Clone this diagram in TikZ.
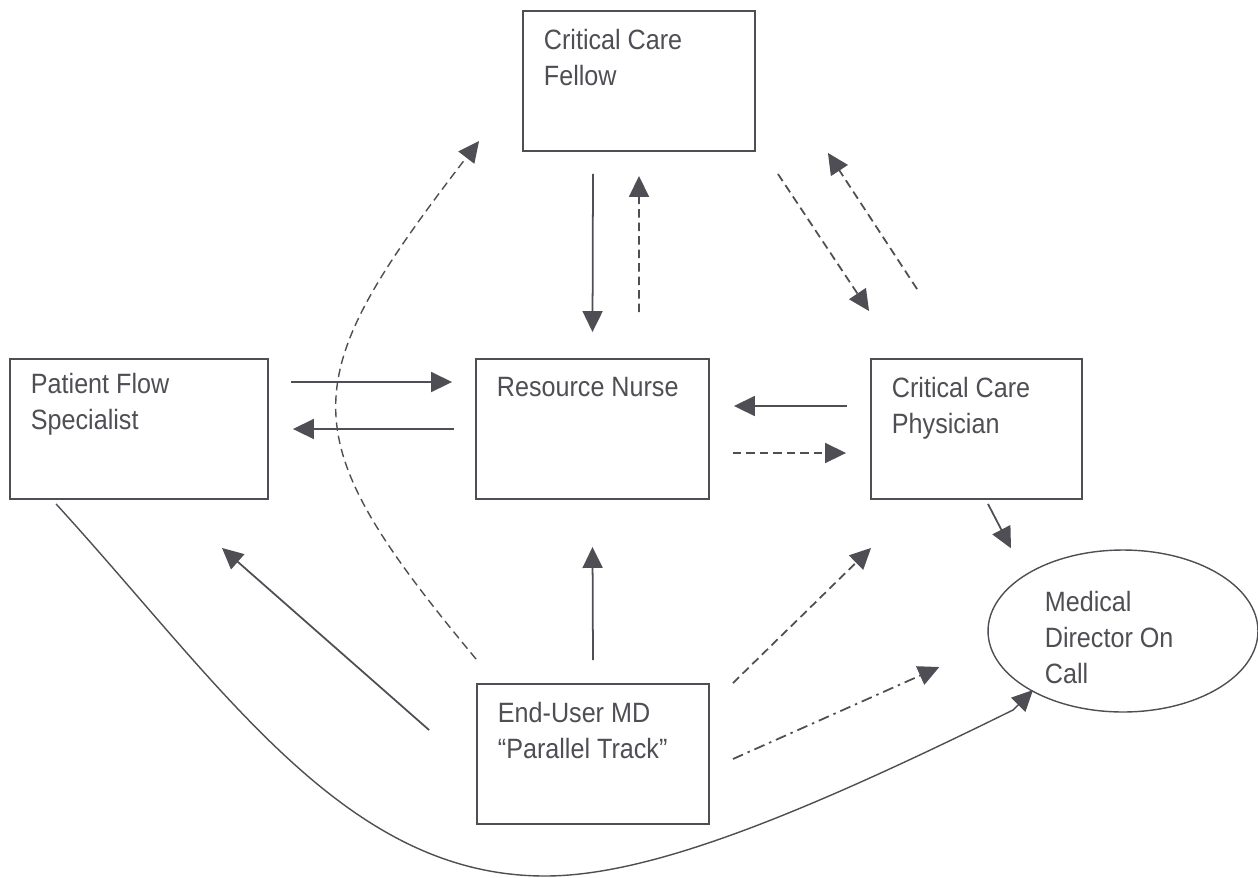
\documentclass[tikz,border=0pt]{standalone}
\usepackage{fontspec}
\setmainfont{Liberation Sans}[FakeStretch=0.9]
\usetikzlibrary{arrows.meta,shapes.geometric}
\definecolor{ink}{RGB}{78,78,84}

\begin{document}
\begin{tikzpicture}[x=0.02cm,y=-0.02cm,->,>={Triangle[length=4.2mm,width=4mm]},color=ink,line width=1pt]
	\fontsize{15.9pt}{20.5pt}\selectfont
	\tikzstyle{u-box}=[rectangle,draw,line width=1.1pt,minimum height=2.8cm]
	\tikzstyle{u-text}=[anchor=north west,inner sep=0pt,align=left]
	\tikzstyle{md-node}=[ellipse,draw,line width=0.8pt,minimum width=5.4cm,minimum height=3.24cm,inner sep=0pt]
	\tikzstyle{dsh}=[dash pattern=on 0.17cm off 0.1cm]
	\tikzstyle{dshdot}=[dash pattern=on 0.22cm off 0.1cm on 0.05cm off 0.1cm]

	\def \rowa{81}
	\def \rowb{429}
	\def \rowc{754}

	\useasboundingbox (0,0) rectangle (1258,877);

	\node[u-box,minimum width=4.64cm]	(fel)	at (639,\rowa)		{};
	\node[u-box,minimum width=5.16cm]	(pfs)	at (139,\rowb)		{};
	\node[u-box,minimum width=4.66cm]	(rn)	at (592.5,\rowb)	{};
	\node[u-box,minimum width=4.22cm]	(ccp)	at (976.5,\rowb)	{};
	\node[u-box,minimum width=4.64cm]	(eu)	at (593,\rowc)		{};
	\node[md-node]				(mdc)	at (1123,631)		{};

	\node[u-text]	(fel-t)	at ([shift={(21,18)}]fel.north west)	{Critical Care\\Fellow};
	\node[u-text]	(pfs-t)	at ([shift={(21,14)}]pfs.north west)	{Patient Flow\\Specialist};
	\node[u-text]	(rn-t)	at ([shift={(21,18)}]rn.north west)	{Resource Nurse};
	\node[u-text]	(ccp-t)	at ([shift={(21,18)}]ccp.north west)	{Critical Care\\Physician};
	\node[u-text]	(eu-t)	at ([shift={(21,18)}]eu.north west)	{End-User MD\\``Parallel Track''};
	\node[u-text]	(mdc-t)	at ([shift={(-79,-41)}]mdc.center)	{Medical\\Director On\\Call};

	% middle row
	\draw ([shift={(22,-47)}]pfs.east) -- ([shift={(-23,-47)}]rn.west);
	\draw ([shift={(-21,0)}]rn.west) -- ([shift={(24,0)}]pfs.east);
	\draw ([shift={(-23,-23)}]ccp.west) -- ([shift={(24,-23)}]rn.east);
	\draw[dsh] ([shift={(23,24)}]rn.east) -- ([shift={(-24,24)}]ccp.west);

	% fellow
	\draw ([shift={(-46,22)}]fel.south) -- ([shift={(0,-26)}]rn.north);
	\draw[dsh] ([shift={(46.5,-46)}]rn.north) -- ([shift={(0,24)}]fel.south);
	\draw[dsh] ([shift={(22,22)}]fel.south east) -- ([shift={(-1,-47)}]ccp.north west);
	\draw[dsh] ([shift={(47,-69)}]ccp.north west) -- ([shift={(72,1)}]fel.south east);

	% end-user md
	\draw ([shift={(0,-23)}]eu.north) -- ([shift={(0,47)}]rn.south);
	\draw ([shift={(-47,-24)}]eu.west) -- ([shift={(83,48)}]pfs.south);
	\draw[dsh] ([shift={(23,0)}]eu.north east) -- ([shift={(1,48)}]ccp.south west);
	\draw[dshdot] ([shift={(23,5)}]eu.east) -- ([shift={(-48,36)}]mdc.west);
	\draw[dsh,line width=0.8pt] ([shift={(0,-24)}]eu.north west) .. controls (288,433) and (293,383) .. ([shift={(-43,-11)}]fel.south west);

	% medical director
	\draw ([shift={(11.5,4)}]ccp.south) -- ([shift={(-112,-1)}]mdc.north);
	\draw[line width=0.8pt] ([shift={(47,4)}]pfs.south west) .. controls (224,688) and (345,876) .. (545,876) .. controls (650,876) and (800,815) .. (1013,710) -- ([shift={(-90,59)}]mdc.center);
\end{tikzpicture}
\end{document}
